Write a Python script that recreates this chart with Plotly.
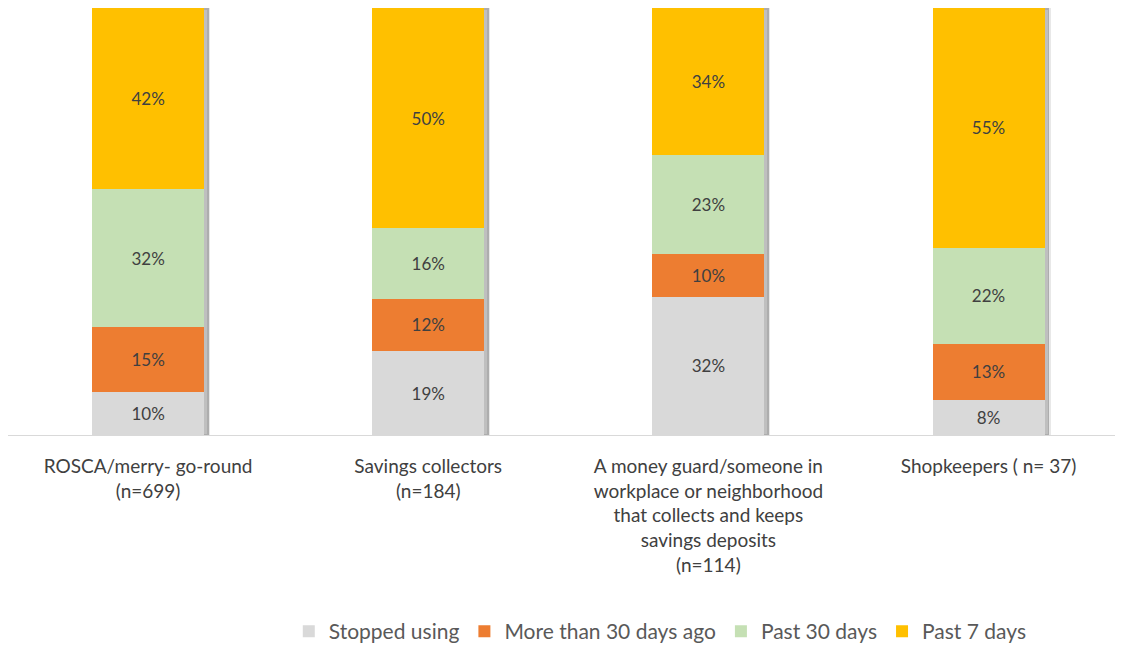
import plotly.graph_objects as go

categories = [
    "ROSCA/merry- go-round<br>(n=699)",
    "Savings collectors<br>(n=184)",
    "A money guard/someone in<br>workplace or neighborhood<br>that collects and keeps<br>savings deposits<br>(n=114)",
    "Shopkeepers ( n= 37)",
]

series_names = ["Stopped using", "More than 30 days ago", "Past 30 days", "Past 7 days"]
stopped_using = [10, 19, 32, 8]
more_than_30 = [15, 12, 10, 13]
past_30 = [32, 16, 23, 22]
past_7 = [42, 50, 34, 55]
colors = ["#D9D9D9", "#ED7D31", "#C5E0B4", "#FFC000"]

series = [stopped_using, more_than_30, past_30, past_7]
totals = [sum(v) for v in zip(*series)]

FONT = "Lato"

fig = go.Figure()

# soft shadow behind each stack (drawn on the base axis, bars sit on the overlay axis)
fig.add_trace(go.Bar(
    x=categories,
    y=[t / t * 100 for t in totals],
    width=0.4,
    offset=-0.2 + 0.016,
    marker=dict(color="rgba(0,0,0,0.25)", line=dict(color="rgba(0,0,0,0.09)", width=3)),
    showlegend=False,
    hoverinfo="skip",
    xaxis="x",
))

for name, vals, col in zip(series_names, series, colors):
    pct = [v / t * 100 for v, t in zip(vals, totals)]
    fig.add_trace(go.Bar(
        x=categories,
        y=pct,
        name=name,
        width=0.4,
        marker=dict(color=col, line=dict(width=0)),
        text=[f"{v}%" for v in vals],
        textposition="inside",
        insidetextanchor="middle",
        textangle=0,
        textfont=dict(family=FONT, size=17, color="#404040"),
        xaxis="x2",
    ))

fig.update_layout(
    width=1115,
    height=644,
    barmode="stack",
    plot_bgcolor="white",
    paper_bgcolor="white",
    margin=dict(l=0, r=0, t=0, b=215),
    font=dict(family=FONT, size=19, color="#404040"),
    xaxis=dict(
        range=[-0.5, 3.48],
        showline=True,
        linecolor="#D9D9D9",
        linewidth=1,
        ticks="outside",
        ticklen=14,
        tickcolor="rgba(0,0,0,0)",
        tickfont=dict(family=FONT, size=19, color="#404040"),
        showgrid=False,
    ),
    xaxis2=dict(
        overlaying="x",
        matches="x",
        visible=False,
    ),
    yaxis=dict(range=[0, 100], visible=False, showgrid=False, zeroline=False),
    legend=dict(
        orientation="h",
        x=0.585,
        xanchor="center",
        y=-0.4615,
        yanchor="middle",
        font=dict(family=FONT, size=21, color="#595959"),
        itemwidth=30,
        traceorder="normal",
    ),
    uniformtext=dict(mode="show", minsize=10),
)

fig.write_html("out.html")
